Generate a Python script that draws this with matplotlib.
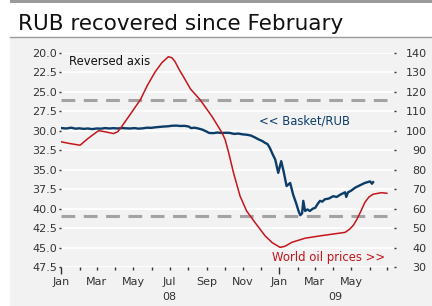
import numpy as np
import pandas as pd
import matplotlib
matplotlib.use("Agg")
import matplotlib.pyplot as plt
import matplotlib.dates as mdates
from matplotlib.patches import Rectangle
from matplotlib.lines import Line2D

# basket/RUB (left axis, reversed)
basket_dates = ["2008-01-02", "2008-01-10", "2008-01-18", "2008-01-25", "2008-02-01", "2008-02-08",
                "2008-02-15", "2008-02-22", "2008-03-01", "2008-03-08", "2008-03-15", "2008-03-22",
                "2008-03-29", "2008-04-05", "2008-04-12", "2008-04-19", "2008-04-26", "2008-05-03",
                "2008-05-10", "2008-05-17", "2008-05-24", "2008-05-31", "2008-06-07", "2008-06-14",
                "2008-06-21", "2008-06-28", "2008-07-05", "2008-07-12", "2008-07-19", "2008-07-26",
                "2008-08-02", "2008-08-06", "2008-08-12", "2008-08-18", "2008-08-25", "2008-09-01",
                "2008-09-05", "2008-09-12", "2008-09-19", "2008-09-26", "2008-10-03", "2008-10-10",
                "2008-10-17", "2008-10-24", "2008-10-31", "2008-11-07", "2008-11-14", "2008-11-21",
                "2008-11-27", "2008-12-03", "2008-12-08", "2008-12-12", "2008-12-16", "2008-12-20",
                "2008-12-25", "2008-12-30", "2009-01-04", "2009-01-08", "2009-01-13", "2009-01-19",
                "2009-01-24", "2009-01-29", "2009-02-02", "2009-02-05", "2009-02-08", "2009-02-10",
                "2009-02-13", "2009-02-17", "2009-02-21", "2009-02-26", "2009-03-02", "2009-03-06",
                "2009-03-10", "2009-03-14", "2009-03-18", "2009-03-25", "2009-04-01", "2009-04-07",
                "2009-04-13", "2009-04-21", "2009-04-23", "2009-04-26", "2009-05-01", "2009-05-08",
                "2009-05-16", "2009-05-24", "2009-06-02", "2009-06-05", "2009-06-07"]
basket = [29.65, 29.7, 29.6, 29.72, 29.68, 29.75,
          29.7, 29.78, 29.7, 29.72, 29.65, 29.7,
          29.66, 29.7, 29.64, 29.68, 29.7, 29.65,
          29.72, 29.68, 29.6, 29.62, 29.55, 29.5,
          29.45, 29.42, 29.35, 29.33, 29.38, 29.36,
          29.45, 29.65, 29.6, 29.7, 29.85, 30.1,
          30.27, 30.3, 30.22, 30.28, 30.25, 30.27,
          30.4, 30.35, 30.45, 30.5, 30.6, 30.85,
          31.1, 31.3, 31.55, 31.7, 32.2, 32.9,
          33.7, 35.4, 33.9, 35.2, 37.1, 36.7,
          38.2, 39.3, 40.3, 40.85, 40.6, 39.0,
          40.3, 40.1, 40.3, 40.0, 39.9, 39.4,
          39.0, 39.1, 38.8, 38.7, 38.4, 38.5,
          38.2, 37.9, 38.5, 37.9, 37.7, 37.3,
          37.0, 36.7, 36.5, 36.8, 36.6]

# world oil prices (right axis)
oil_dates = ["2008-01-02", "2008-01-15", "2008-02-02", "2008-02-15", "2008-03-04", "2008-03-15",
             "2008-03-29", "2008-04-05", "2008-04-12", "2008-04-25", "2008-05-13", "2008-05-25",
             "2008-06-07", "2008-06-18", "2008-06-29", "2008-07-05", "2008-07-10", "2008-07-17",
             "2008-07-24", "2008-08-05", "2008-08-21", "2008-09-10", "2008-09-27", "2008-10-02",
             "2008-10-08", "2008-10-16", "2008-10-27", "2008-11-07", "2008-11-21", "2008-12-08",
             "2008-12-20", "2009-01-02", "2009-01-10", "2009-01-22", "2009-02-13", "2009-03-10",
             "2009-04-21", "2009-04-29", "2009-05-05", "2009-05-11", "2009-05-18", "2009-05-24",
             "2009-05-31", "2009-06-07", "2009-06-21", "2009-06-30"]
oil = [94.3, 93.5, 92.6, 96.0, 100.1, 99.5,
       98.6, 99.5, 102.3, 108.0, 116.0, 123.5,
       130.4, 135.0, 138.1, 137.5, 135.6, 131.5,
       127.9, 121.5, 116.0, 107.4, 98.9, 95.5,
       88.7, 78.5, 66.5, 58.8, 52.9, 46.0,
       42.5, 40.1, 40.6, 42.7, 44.8, 46.0,
       47.8, 49.5, 51.5, 54.6, 59.0, 63.1,
       66.0, 67.4, 68.2, 67.9]

band_levels = [26.1, 41.0]
left_ticks = np.arange(20, 47.6, 2.5)
right_ticks = np.arange(30, 141, 10)

blue = "#0c3c68"
red = "#c4161c"
panel = "#f2f2f2"

fig = plt.figure(figsize=(4.32, 3.06), dpi=100)
fig.patch.set_facecolor("white")
fig.patches.append(Rectangle((10 / 432, 0), 1, 1 - 37 / 306, transform=fig.transFigure,
                             facecolor=panel, edgecolor="none", zorder=-5))
fig.patches.append(Rectangle((10 / 432, 1 - 2.5 / 306), 1, 2.5 / 306, transform=fig.transFigure,
                             facecolor="#9a9a9a", edgecolor="none", zorder=-5))
fig.lines.append(Line2D([10 / 432, 1], [1 - 37 / 306, 1 - 37 / 306], transform=fig.transFigure,
                        color="#9a9a9a", lw=1, zorder=-4))
fig.text(18 / 432, 1 - 24 / 306, "RUB recovered since February", fontsize=15.5,
         va="center", ha="left", color="#111111")

ax = fig.add_axes([61 / 432, 1 - 267 / 306, (394 - 61) / 432, (267 - 53) / 306])
ax.set_facecolor(panel)
ax2 = ax.twinx()

bd = pd.to_datetime(basket_dates)
od = pd.to_datetime(oil_dates)

for y in left_ticks:
    ax.axhline(y, color="white", lw=1.3, zorder=0)
for y in band_levels:
    ax.axhline(y, color="#a3a3a3", lw=2.2, dashes=(4.5, 2.8), zorder=1)

ax.plot(bd, basket, color=blue, lw=1.7, zorder=3)
ax2.plot(od, oil, color=red, lw=1.1, zorder=3)

ax.set_ylim(47.5, 20)
ax2.set_ylim(30, 140)
ax.set_xlim(pd.Timestamp("2008-01-01"), pd.Timestamp("2009-07-12"))

ax.set_yticks(left_ticks)
ax.set_yticklabels(["%.1f" % v for v in left_ticks])
ax2.set_yticks(right_ticks)
ax2.set_yticklabels(["%d" % v for v in right_ticks])

ax.tick_params(axis="y", length=1.5, width=1, pad=1.5, labelsize=8, colors="#333333")
ax2.tick_params(axis="y", length=1.5, width=1, pad=22, labelsize=8, colors="#333333")
for lab in ax2.get_yticklabels():
    lab.set_horizontalalignment("right")

ax.xaxis.set_major_locator(mdates.MonthLocator(bymonth=[1]))
ax.xaxis.set_minor_locator(mdates.MonthLocator())
ax.xaxis.set_major_formatter(plt.NullFormatter())
ax.tick_params(axis="x", which="major", length=5, width=1, color="#333333")
ax.tick_params(axis="x", which="minor", length=2.5, width=1, color="#333333")

# month labels every second month
month_ticks = pd.date_range("2008-01-01", "2009-05-01", freq="2MS")
for d in month_ticks:
    ax.text(d, -0.045, d.strftime("%b"), transform=ax.get_xaxis_transform(),
            ha="center", va="top", fontsize=8, color="#333333")
ax.text(pd.Timestamp("2008-07-01"), -0.115, "08", transform=ax.get_xaxis_transform(),
        ha="center", va="top", fontsize=8, color="#333333")
ax.text(pd.Timestamp("2009-04-05"), -0.115, "09", transform=ax.get_xaxis_transform(),
        ha="center", va="top", fontsize=8, color="#333333")

for a in (ax, ax2):
    for s in a.spines.values():
        s.set_visible(False)

ax.text(pd.Timestamp("2008-01-15"), 21.15, "Reversed axis", fontsize=8.4, color="#111111",
        ha="left", va="center", zorder=5)
ax.text(pd.Timestamp("2008-11-27"), 28.8, "<< Basket/RUB", fontsize=8.4, color=blue,
        ha="left", va="center", zorder=5)
ax.text(pd.Timestamp("2009-06-27"), 46.25, "World oil prices >>", fontsize=8.4, color=red,
        ha="right", va="center", zorder=5)

ax.set_zorder(1)
ax2.set_zorder(2)
ax2.patch.set_visible(False)

fig.savefig("out.png", dpi=100)
